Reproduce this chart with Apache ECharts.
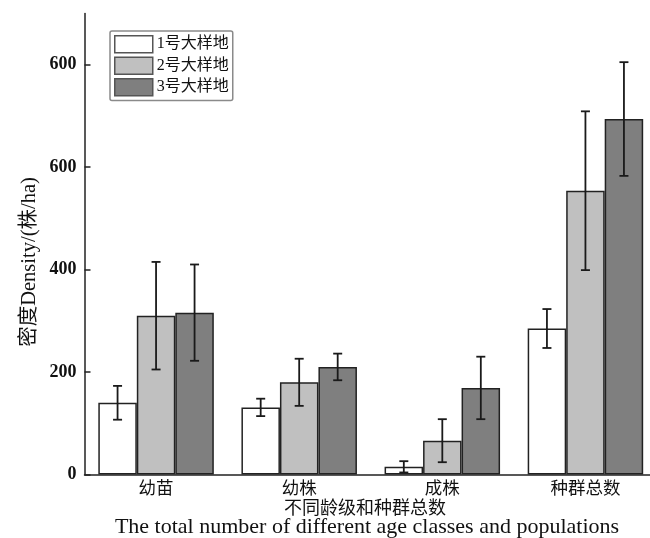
<!DOCTYPE html>
<html>
<head>
<meta charset="utf-8">
<script src="https://cdn.jsdelivr.net/npm/echarts@6/dist/echarts.min.js"></script>
<style>
  html, body { margin: 0; padding: 0; background: #fff; }
  #chart { width: 650px; height: 538px; }
</style>
</head>
<body>
<div id="chart"></div>
<script>
// Age classes and population totals
const categories = ['幼苗', '幼株', '成株', '种群总数'];
const seriesNames = ['1号大样地', '2号大样地', '3号大样地'];

// Mean density (株/ha) per plot
const plot1 = [140, 131, 15, 285];
const plot2 = [310, 180, 66, 554];
const plot3 = [316, 210, 169, 694];

// Standard deviations
const plot1Err = [33, 17, 11, 38];
const plot2Err = [105, 46, 42, 155];
const plot3Err = [94, 26, 61, 111];

// Y axis tick values and their printed labels
const yTicks = [0, 200, 400, 600, 800];
const yTickLabels = ['0', '200', '400', '600', '600'];

const SERIF = "'Liberation Serif', 'Noto Sans CJK SC', serif";
const BAR_W = 38.5;
const colors = ['#ffffff', '#c0c0c0', '#7f7f7f'];
const values = [plot1, plot2, plot3];
const errors = [plot1Err, plot2Err, plot3Err];

const chart = echarts.init(document.getElementById('chart'));

const barSeries = values.map((vals, i) => ({
  name: seriesNames[i],
  type: 'bar',
  data: vals,
  barWidth: BAR_W,
  barGap: '0%',
  z: 2,
  itemStyle: { color: colors[i], borderColor: '#222', borderWidth: 1.5 }
}));

// Whiskers drawn over each bar, offset to that bar's slot
const errSeries = values.map((vals, i) => ({
  type: 'custom',
  z: 5,
  silent: true,
  data: vals.map((v, k) => [k, v, errors[i][k]]),
  encode: { x: 0, y: 1 },
  renderItem: function (params, api) {
    const k = api.value(0);
    const v = api.value(1);
    const e = api.value(2);
    const off = (i - 1) * BAR_W;
    const hi = api.coord([k, v + e]);
    const lo = api.coord([k, v - e]);
    const x = hi[0] + off;
    const cap = 4.5;
    const style = { stroke: '#1a1a1a', lineWidth: 1.8 };
    return {
      type: 'group',
      children: [
        { type: 'line', shape: { x1: x, y1: hi[1], x2: x, y2: lo[1] }, style: style },
        { type: 'line', shape: { x1: x - cap, y1: hi[1], x2: x + cap, y2: hi[1] }, style: style },
        { type: 'line', shape: { x1: x - cap, y1: lo[1], x2: x + cap, y2: lo[1] }, style: style }
      ]
    };
  }
}));

chart.setOption({
  animation: false,
  backgroundColor: '#fff',
  grid: { left: 84.5, right: -7, top: 13.5, bottom: 63.5, outerBoundsMode: 'none', containLabel: false },
  legend: {
    orient: 'vertical',
    left: 110,
    top: 31,
    data: seriesNames,
    icon: 'rect',
    itemWidth: 38,
    itemHeight: 17,
    itemGap: 3,
    padding: 4,
    borderColor: '#8a8a8a',
    borderWidth: 1.5,
    borderRadius: 2,
    backgroundColor: '#fff',
    itemStyle: { borderColor: '#555', borderWidth: 1.5 },
    textStyle: { fontFamily: SERIF, fontSize: 16, color: '#111', padding: [0, 0, 0, -1] }
  },
  xAxis: {
    type: 'category',
    data: categories,
    z: 6,
    axisLine: { lineStyle: { color: '#222', width: 1.5 } },
    axisTick: { inside: true, length: 8, alignWithLabel: true, lineStyle: { color: '#222', width: 1.5 } },
    axisLabel: { fontFamily: SERIF, fontSize: 17.5, color: '#111', margin: 6 }
  },
  yAxis: {
    type: 'value',
    min: 0,
    max: 900,
    interval: 100,
    splitLine: { show: false },
    axisLine: { show: true, lineStyle: { color: '#222', width: 1.5 } },
    axisTick: { show: true, inside: true, length: 6, customValues: yTicks, lineStyle: { color: '#222', width: 1.5 } },
    axisLabel: {
      customValues: yTicks,
      fontFamily: SERIF,
      fontWeight: 'bold',
      fontSize: 18,
      color: '#111',
      margin: 8,
      formatter: function (val) {
        const idx = yTicks.indexOf(val);
        return idx >= 0 ? yTickLabels[idx] : '';
      }
    }
  },
  graphic: [
    {
      // y axis title, rotated
      type: 'text',
      x: 30, y: 262,
      rotation: Math.PI / 2,
      style: {
        text: '密度Density/(株/ha)',
        font: "20.5px 'Liberation Serif', 'Noto Sans CJK SC', serif",
        fill: '#111',
        align: 'center',
        verticalAlign: 'middle'
      }
    },
    {
      type: 'text',
      x: 365, y: 507,
      style: {
        text: '不同龄级和种群总数',
        font: "18px 'Noto Sans CJK SC', serif",
        fill: '#111',
        align: 'center',
        verticalAlign: 'middle'
      }
    },
    {
      type: 'text',
      x: 367, y: 527,
      style: {
        text: 'The total number of different age classes and populations',
        font: "22px 'Liberation Serif', serif",
        fill: '#111',
        align: 'center',
        verticalAlign: 'middle'
      }
    }
  ],
  series: barSeries.concat(errSeries)
});
</script>
</body>
</html>
